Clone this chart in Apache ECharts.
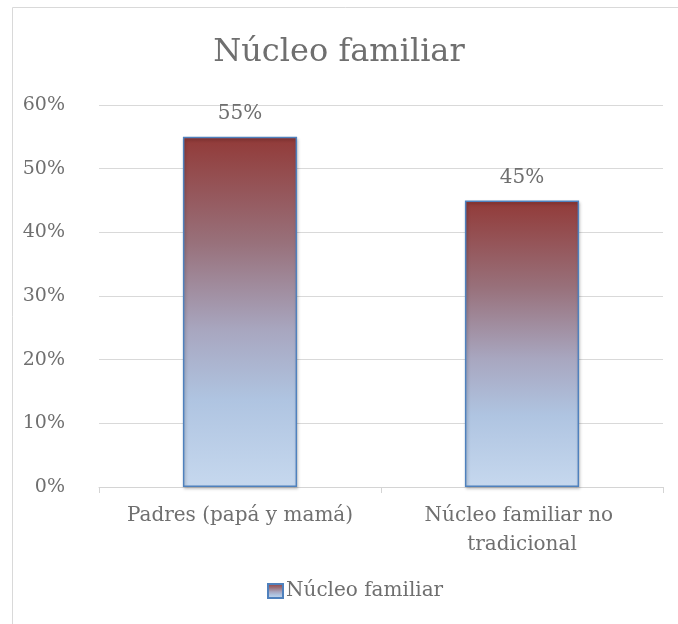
<!DOCTYPE html>
<html>
<head>
<meta charset="utf-8">
<script src="https://cdn.jsdelivr.net/npm/echarts@6/dist/echarts.min.js"></script>
<style>
	html, body { margin: 0; padding: 0; background: #fff; }
	#chart { width: 678px; height: 624px; }
</style>
</head>
<body>
<div id="chart"></div>
<script>
	// datos
	var categorias = ['Padres (papá y mamá)', 'Núcleo familiar no tradicional'];
	var valores = [55, 45];
	var serieNombre = 'Núcleo familiar';

	var fuente = 'DejaVu Serif';
	var gris = '#6f6f6f';

	var degradado = new echarts.graphic.LinearGradient(0, 0, 0, 1, [
		{ offset: 0, color: '#923a38' },
		{ offset: 0.3, color: '#98707a' },
		{ offset: 0.55, color: '#a8a6bf' },
		{ offset: 0.75, color: '#afc4e1' },
		{ offset: 1, color: '#c6d8ee' }
	]);

	var chart = echarts.init(document.getElementById('chart'));
	chart.setOption({
		animation: false,
		title: {
			text: 'Núcleo familiar',
			left: 'center',
			top: 32,
			textStyle: {
				fontFamily: fuente,
				fontSize: 32,
				fontWeight: 'normal',
				color: gris
			}
		},
		legend: {
			bottom: 18,
			left: 262,
			itemWidth: 15,
			itemHeight: 14,
			icon: 'rect',
			itemGap: 4,
			textStyle: {
				fontFamily: fuente,
				fontSize: 20,
				color: gris,
				padding: [0, 0, 0, -2]
			},
			data: [serieNombre]
		},
		grid: {
			left: 99,
			right: 15,
			top: 105,
			bottom: 137
		},
		xAxis: {
			type: 'category',
			data: categorias,
			axisLine: { lineStyle: { color: '#d4d4d4', width: 1 } },
			axisTick: { show: true, length: 6, lineStyle: { color: '#d4d4d4' } },
			axisLabel: {
				fontFamily: fuente,
				fontSize: 20,
				color: gris,
				margin: 14,
				lineHeight: 29,
				width: 272,
				overflow: 'break',
				interval: 0
			}
		},
		yAxis: {
			type: 'value',
			min: 0,
			max: 60,
			interval: 10,
			axisLine: { show: false },
			axisTick: { show: false },
			splitLine: { lineStyle: { color: '#d9d9d9', width: 1 } },
			axisLabel: {
				fontFamily: fuente,
				fontSize: 19,
				color: gris,
				margin: 34,
				formatter: '{value}%'
			}
		},
		series: [{
			name: serieNombre,
			type: 'bar',
			barWidth: '40.5%',
			data: valores,
			itemStyle: {
				color: degradado,
				borderColor: '#4f81bd',
				borderWidth: 1.5,
				shadowColor: 'rgba(0,0,0,0.25)',
				shadowBlur: 3,
				shadowOffsetX: 1,
				shadowOffsetY: 2
			},
			label: {
				show: true,
				position: 'top',
				distance: 13,
				formatter: '{c}%',
				fontFamily: fuente,
				fontSize: 20,
				color: gris
			}
		}],
		graphic: [{
			type: 'rect',
			silent: true,
			z: -1,
			shape: { x: 12.5, y: 7.5, width: 700, height: 640 },
			style: { fill: 'none', stroke: '#d9d9d9', lineWidth: 1 }
		}]
	});
</script>
</body>
</html>
